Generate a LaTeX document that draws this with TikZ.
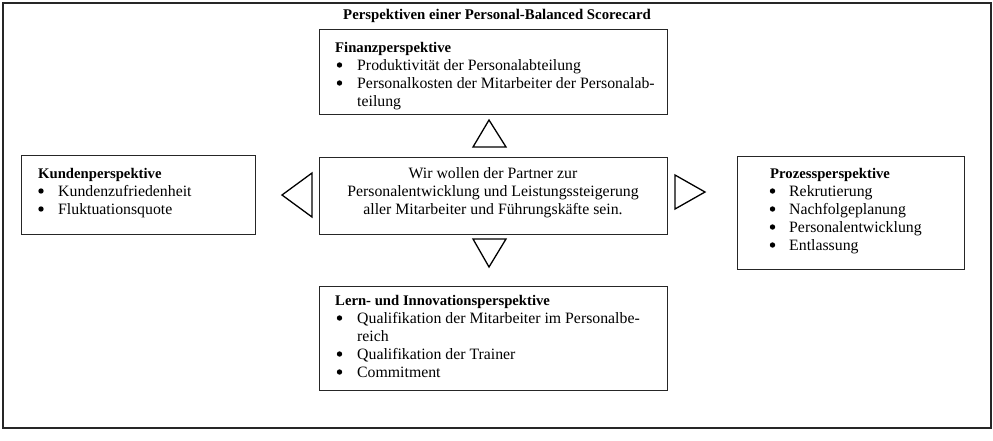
\documentclass[tikz,border=0pt]{standalone}
\usepackage{fontspec}
\setmainfont{Liberation Serif}
\begin{document}
\begin{tikzpicture}[x=1pt,y=-1pt,
  font=\fontsize{15.8}{18}\selectfont,
  box/.style={draw=black!85, line width=1.2pt, inner sep=0pt, anchor=north west},
  tx/.style={anchor=base west, inner sep=0pt},
  hd/.style={tx, font=\fontsize{14.7}{18}\selectfont\bfseries},
  ctr/.style={anchor=base, inner sep=0pt},
  bul/.style={circle, fill=black, inner sep=0pt, minimum size=5.4pt},
  tri/.style={draw=black, line width=1.3pt, line join=miter}]
\useasboundingbox (0,0) rectangle (993,440);
\node[draw=black!85, line width=1.5pt, inner sep=0pt, anchor=north west,
  minimum width=988pt, minimum height=425pt] (frame) at (2,2) {};
\node[ctr, font=\fontsize{14.8}{18}\selectfont\bfseries] (title) at (497,19) {Perspektiven einer Personal-Balanced Scorecard};

% boxes
\node[box, minimum width=348pt, minimum height=85pt] (fin) at (319,29) {};
\node[box, minimum width=348pt, minimum height=77pt] (mid) at (319,157) {};
\node[box, minimum width=234pt, minimum height=79pt] (kun) at (21,155) {};
\node[box, minimum width=227pt, minimum height=113pt] (pro) at (737,156) {};
\node[box, minimum width=348pt, minimum height=104pt] (lern) at (319,286) {};

% Finanz
\node[hd] (fin0) at (335,52) {Finanzperspektive};
\node[bul] (finb1) at (339.5,65) {};
\node[tx] (fin1) at (357,70) {Produktivität der Personalabteilung};
\node[bul] (finb2) at (339.5,83) {};
\node[tx] (fin2) at (357,88) {Personalkosten der Mitarbeiter der Personalab-};
\node[tx] (fin3) at (357,106) {teilung};

% Mitte
\node[ctr] (mid1) at (493,178) {Wir wollen der Partner zur};
\node[ctr] (mid2) at (493,196) {Personalentwicklung und Leistungssteigerung};
\node[ctr] (mid3) at (493,214) {aller Mitarbeiter und Führungskäfte sein.};

% Kunden
\node[hd] (kun0) at (38,178) {Kundenperspektive};
\node[bul] (kunb1) at (41,191) {};
\node[tx] (kun1) at (58,196) {Kundenzufriedenheit};
\node[bul] (kunb2) at (41,209) {};
\node[tx] (kun2) at (58,214) {Fluktuationsquote};

% Prozess
\node[hd] (pro0) at (770,178) {Prozessperspektive};
\node[bul] (prob1) at (772.5,191) {};
\node[tx] (pro1) at (789,196) {Rekrutierung};
\node[bul] (prob2) at (772.5,209) {};
\node[tx] (pro2) at (789,214) {Nachfolgeplanung};
\node[bul] (prob3) at (772.5,227) {};
\node[tx] (pro3) at (789,232) {Personalentwicklung};
\node[bul] (prob4) at (772.5,245) {};
\node[tx] (pro4) at (789,250) {Entlassung};

% Lern
\node[hd] (lern0) at (335,305) {Lern- und Innovationsperspektive};
\node[bul] (lernb1) at (339.5,318) {};
\node[tx] (lern1) at (357,323) {Qualifikation der Mitarbeiter im Personalbe-};
\node[tx] (lern2) at (357,341) {reich};
\node[bul] (lernb3) at (339.5,354) {};
\node[tx] (lern3) at (357,359) {Qualifikation der Trainer};
\node[bul] (lernb4) at (339.5,372) {};
\node[tx] (lern4) at (357,377) {Commitment};

% triangles
\draw[tri] (489,120) -- (506,147) -- (473,147) -- cycle;
\draw[tri] (489,267) -- (473,239) -- (506,239) -- cycle;
\draw[tri] (282,195) -- (312,173) -- (312,217) -- cycle;
\draw[tri] (705,192) -- (675,175) -- (675,209) -- cycle;
\end{tikzpicture}
\end{document}
